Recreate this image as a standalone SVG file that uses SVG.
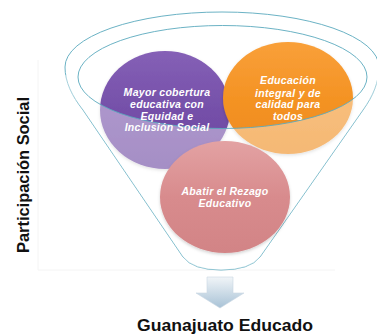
<svg xmlns="http://www.w3.org/2000/svg" width="377" height="336" viewBox="0 0 377 336">
  <defs>
    <linearGradient id="gPurple" x1="0" y1="0" x2="0" y2="1">
      <stop offset="0" stop-color="#8560b6"/>
      <stop offset="0.5" stop-color="#7550a9"/>
      <stop offset="1" stop-color="#6a449f"/>
    </linearGradient>
    <linearGradient id="gOrange" x1="0" y1="0" x2="0" y2="1">
      <stop offset="0" stop-color="#f9a03a"/>
      <stop offset="0.5" stop-color="#f49324"/>
      <stop offset="1" stop-color="#ee8a1c"/>
    </linearGradient>
    <linearGradient id="gPink" x1="0" y1="0" x2="0" y2="1">
      <stop offset="0" stop-color="#e3a2a3"/>
      <stop offset="0.5" stop-color="#d88b8d"/>
      <stop offset="1" stop-color="#d28486"/>
    </linearGradient>
    <linearGradient id="gArrow" x1="0" y1="0" x2="0" y2="1">
      <stop offset="0" stop-color="#f1f5f8"/>
      <stop offset="1" stop-color="#a8c2d6"/>
    </linearGradient>
    <filter id="soft" x="-10%" y="-10%" width="120%" height="125%">
      <feDropShadow dx="0" dy="1.5" stdDeviation="1.5" flood-color="#000" flood-opacity="0.18"/>
    </filter>
  </defs>
  <style>
    .funnel { fill: none; stroke: #5aa9bd; stroke-width: 0.9; }
    .wash { fill: #ffffff; fill-opacity: 0.4; stroke: none; }
    .ctext { font-family: "Liberation Sans", Arial, sans-serif; font-size: 10.5px; font-weight: bold; font-style: italic; fill: #ffffff; text-anchor: middle; letter-spacing: 0.3px; }
    .label { font-family: "Liberation Sans", Arial, sans-serif; font-size: 16px; font-weight: bold; fill: #111111; text-anchor: middle; }
    .frame { stroke: #f4f4f4; stroke-width: 1; fill: none; }
  </style>

  <g id="frame">
    <line class="frame" x1="38" y1="60" x2="38" y2="270"/>
    <line class="frame" x1="38" y1="270" x2="335" y2="270"/>
  </g>

  <g id="funnel-back">
    <path class="funnel" d="M65,67 C65,82 72,96 83,110 L183,257 Q193,270 221,270 Q250,270 260,257 L363,110 C373,96 379,82 379,67 A157,55 0 0 0 65,67 Z"/>
  </g>

  <g id="node-mayor">
    <ellipse cx="165" cy="110" rx="65" ry="59" fill="url(#gPurple)" filter="url(#soft)"/>
  </g>
  <g id="node-educacion">
    <ellipse cx="288" cy="98" rx="65" ry="56" fill="url(#gOrange)" filter="url(#soft)"/>
  </g>

  <g id="funnel-front">
    <path class="wash" d="M78,77 A144.5,51.5 0 0 0 367,77 L379,75 C379,84 373,96 363,110 L260,257 Q250,270 221,270 Q193,270 183,257 L83,110 C72,96 65,84 65,75 Z"/>
    <ellipse class="funnel" cx="222.5" cy="77" rx="144.5" ry="51.5"/>
  </g>

  <g id="node-mayor-text">
    <text class="ctext" x="167" y="96">Mayor cobertura</text>
    <text class="ctext" x="167" y="107.5">educativa  con</text>
    <text class="ctext" x="167" y="119.5">Equidad e</text>
    <text class="ctext" x="167" y="131">Inclusión Social</text>
  </g>
  <g id="node-educacion-text">
    <text class="ctext" x="288" y="84">Educación</text>
    <text class="ctext" x="288" y="96.5">integral y de</text>
    <text class="ctext" x="288" y="108">calidad para</text>
    <text class="ctext" x="288" y="120">todos</text>
  </g>

  <g id="node-abatir">
    <ellipse cx="225" cy="197" rx="65" ry="56" fill="url(#gPink)" filter="url(#soft)"/>
    <text class="ctext" x="225" y="195">Abatir el Rezago</text>
    <text class="ctext" x="225" y="207">Educativo</text>
  </g>

  <g id="connectors">
    <path d="M207,277 H233 V293 H244 L220,308 L196,293 H207 Z" fill="url(#gArrow)" stroke="#c9d7e2" stroke-width="0.6"/>
  </g>

  <g id="label-participacion">
    <text class="label" transform="translate(29,175) rotate(-90)" textLength="156" lengthAdjust="spacingAndGlyphs">Participación Social</text>
  </g>
  <g id="label-guanajuato">
    <text class="label" x="225" y="331" textLength="176" lengthAdjust="spacingAndGlyphs">Guanajuato Educado</text>
  </g>
</svg>
